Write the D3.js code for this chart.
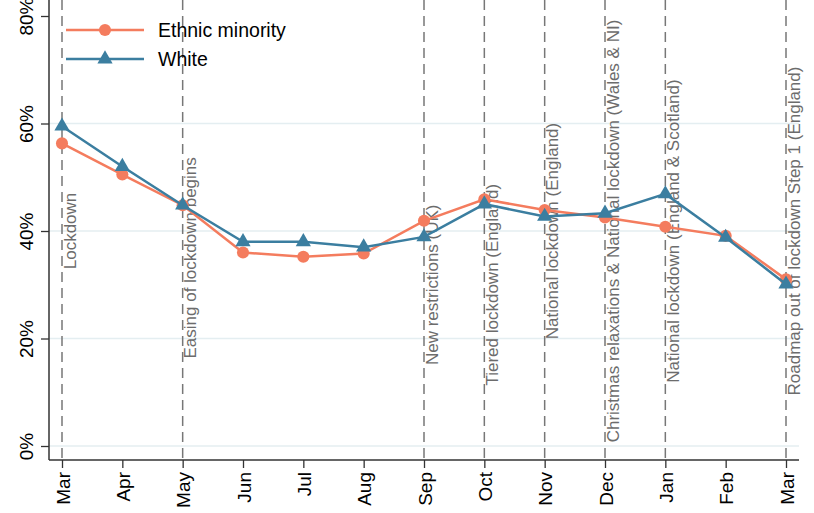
<!DOCTYPE html>
<html>
<head>
<meta charset="utf-8">
<script src="https://cdn.jsdelivr.net/npm/d3@7"></script>
<style>
  body { margin: 0; background: #fff; }
  svg { display: block; font-family: "Liberation Sans", Arial, sans-serif; }
</style>
</head>
<body>
<div id="chart"></div>
<script>
// months, Mar 2020 .. Mar 2021
const months = ["Mar", "Apr", "May", "Jun", "Jul", "Aug", "Sep", "Oct", "Nov", "Dec", "Jan", "Feb", "Mar"];
const ethnicMinority = [56.3, 50.5, 44.8, 36.0, 35.2, 35.8, 41.9, 45.9, 43.9, 42.5, 40.8, 39.1, 31.0];
const white = [59.5, 52.0, 44.8, 38.0, 38.0, 37.0, 38.9, 45.0, 42.7, 43.3, 46.9, 38.8, 30.1];
const yTicks = [0, 20, 40, 60, 80];
const gridTicks = [0, 20, 40, 60];

// policy events: month index, label, label centre (in % units)
const eventIdx = [0, 2, 6, 7, 8, 9, 10, 12];
const eventLabels = [
  "Lockdown",
  "Easing of lockdown begins",
  "New restrictions (UK)",
  "Tiered lockdown (England)",
  "National lockdown (England)",
  "Christmas relaxations & National lockdown (Wales & NI)",
  "National lockdown (England & Scotland)",
  "Roadmap out of lockdown Step 1 (England)"
];
const eventLabelY = [40, 35, 30, 30, 40, 40, 40, 40];

const W = 814, H = 513;
const plotL = 49, plotR = 799, plotT = 0, plotB = 460;
const cEM = "#F47C5E", cW = "#3B7EA0";

const svg = d3.select("#chart").append("svg")
  .attr("width", W).attr("height", H);

const x = d3.scalePoint()
  .domain(d3.range(months.length))
  .range([62, 786]);

const y = d3.scaleLinear()
  .domain([0, 80])
  .range([446, 16]);

// gridlines
svg.append("g").selectAll("line")
  .data(gridTicks)
  .join("line")
  .attr("x1", plotL).attr("x2", plotR)
  .attr("y1", d => y(d)).attr("y2", d => y(d))
  .attr("stroke", "#E4EEF1").attr("stroke-width", 1.3);

// event lines + labels
const ev = svg.append("g");
eventIdx.forEach((m, i) => {
  ev.append("line")
    .attr("x1", x(m)).attr("x2", x(m))
    .attr("y1", plotT).attr("y2", plotB)
    .attr("stroke", "#777").attr("stroke-width", 1.5)
    .attr("stroke-dasharray", "10,6");
  ev.append("text")
    .attr("transform", `translate(${x(m) + 13.5},${y(eventLabelY[i])}) rotate(-90)`)
    .attr("text-anchor", "middle")
    .style("font-size", "17px")
    .attr("fill", "#6c6c6c")
    .text(eventLabels[i]);
});

// axes
const xAxis = d3.axisBottom(x).tickSize(8).tickSizeOuter(0)
  .tickFormat(i => months[i]);
const gx = svg.append("g")
  .attr("transform", `translate(0,${plotB})`)
  .call(xAxis);
gx.select(".domain").remove();
gx.selectAll(".tick line").attr("stroke", "#333").attr("stroke-width", 1.3);
gx.selectAll(".tick text")
  .attr("transform", "rotate(-90)")
  .attr("text-anchor", "end")
  .attr("x", -12).attr("y", 7).attr("dy", 0)
  .attr("fill", "#000")
  .style("font-size", "19px")
  .style("font-family", "'Liberation Sans', Arial, sans-serif");

const yAxis = d3.axisLeft(y).tickValues(yTicks).tickSize(8).tickSizeOuter(0)
  .tickFormat(d => d + "%");
const gy = svg.append("g")
  .attr("transform", `translate(${plotL},0)`)
  .call(yAxis);
gy.select(".domain").remove();
gy.selectAll(".tick line").attr("stroke", "#333").attr("stroke-width", 1.3);
gy.selectAll(".tick text")
  .attr("transform", "rotate(-90)")
  .attr("text-anchor", "middle")
  .attr("x", 0).attr("y", -16).attr("dy", 0)
  .attr("fill", "#000")
  .style("font-size", "19px")
  .style("font-family", "'Liberation Sans', Arial, sans-serif");

svg.append("line")
  .attr("x1", plotL).attr("x2", plotL).attr("y1", plotT).attr("y2", plotB)
  .attr("stroke", "#333").attr("stroke-width", 1.5);
svg.append("line")
  .attr("x1", plotL).attr("x2", plotR).attr("y1", plotB).attr("y2", plotB)
  .attr("stroke", "#333").attr("stroke-width", 1.5);

// series
const line = d3.line()
  .x((d, i) => x(i))
  .y(d => y(d));

const series = [
  { values: ethnicMinority, color: cEM, sym: d3.symbolCircle, size: 115, label: "Ethnic minority" },
  { values: white, color: cW, sym: d3.symbolTriangle, size: 100, label: "White" }
];

series.forEach(s => {
  svg.append("path")
    .datum(s.values)
    .attr("d", line)
    .attr("fill", "none")
    .attr("stroke", s.color)
    .attr("stroke-width", 2.5);
  svg.append("g").selectAll("path")
    .data(s.values)
    .join("path")
    .attr("d", d3.symbol(s.sym, s.size))
    .attr("transform", (d, i) => `translate(${x(i)},${y(d)})`)
    .attr("fill", s.color);
});

// legend
const lg = svg.append("g");
series.forEach((s, i) => {
  const ly = 30 + i * 29;
  lg.append("line")
    .attr("x1", 66).attr("x2", 144).attr("y1", ly).attr("y2", ly)
    .attr("stroke", s.color).attr("stroke-width", 2.5);
  lg.append("path")
    .attr("d", d3.symbol(s.sym, s.size))
    .attr("transform", `translate(105,${ly})`)
    .attr("fill", s.color);
  lg.append("text")
    .attr("x", 158).attr("y", ly)
    .attr("dy", "0.35em")
    .style("font-size", "19.5px")
    .attr("fill", "#000")
    .text(s.label);
});
</script>
</body>
</html>
